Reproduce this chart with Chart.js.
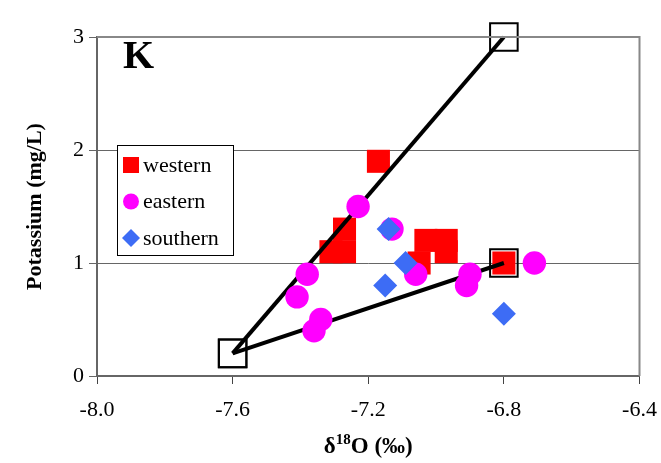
<!DOCTYPE html>
<html>
<head>
<meta charset="utf-8">
<script src="https://cdn.jsdelivr.net/npm/chart.js@4/dist/chart.umd.min.js"></script>
<style>
  html, body { margin: 0; padding: 0; background: #fff; }
</style>
</head>
<body>
<canvas id="kChart" width="661" height="463"></canvas>
<script>
// data (delta 18O vs potassium)
const westernX  = [-7.17, -7.31, -7.27, -7.27, -7.03, -6.97, -6.97, -7.05, -6.80];
const westernY  = [ 1.90,  1.10,  1.10,  1.30,  1.20,  1.20,  1.10,  1.00,  1.00];
const easternX  = [-7.23, -7.13, -7.38, -7.41, -7.34, -7.36, -7.06, -6.90, -6.91, -6.71];
const easternY  = [ 1.50,  1.30,  0.90,  0.70,  0.50,  0.40,  0.90,  0.90,  0.80,  1.00];
const southernX = [-7.14, -7.09, -7.15, -6.80];
const southernY = [ 1.30,  1.00,  0.80,  0.55];
// end members of the two mixing lines
const endX      = [-7.6, -6.8];
const upperY    = [0.2, 3.0];
const lowerY    = [0.2, 1.0];
const xTicks    = [-8.0, -7.6, -7.2, -6.8, -6.4];
const yTicks    = [0, 1, 2, 3];

const serif = '"Liberation Serif", "Times New Roman", serif';

function pts(xs, ys) {
    return xs.map((x, i) => ({ x: x, y: ys[i] }));
}

function mixLine(ys) {
    return {
        label: 'mix',
        data: pts(endX, ys),
        showLine: true,
        borderColor: '#000',
        borderWidth: 4,
        pointStyle: 'rect',
        pointRadius: 19.5,
        pointBorderWidth: 2,
        pointBorderColor: '#000',
        pointBackgroundColor: 'rgba(0,0,0,0)',
        order: 3,
        clip: false
    };
}

const legendItems = [
    { text: 'western',  color: '#ff0000', style: 'square' },
    { text: 'eastern',  color: '#ff00ff', style: 'circle' },
    { text: 'southern', color: '#3d6cf5', style: 'diamond' }
];

const decorations = {
    id: 'decorations',
    afterDraw(chart) {
        const ctx = chart.ctx;
        const a = chart.chartArea;
        ctx.save();

        // top and right frame
        ctx.strokeStyle = '#888';
        ctx.lineWidth = 2;
        ctx.beginPath();
        ctx.moveTo(a.left, a.top);
        ctx.lineTo(a.right, a.top);
        ctx.lineTo(a.right, a.bottom);
        ctx.stroke();

        // panel letter
        ctx.fillStyle = '#000';
        ctx.font = 'bold 40px ' + serif;
        ctx.textAlign = 'left';
        ctx.textBaseline = 'alphabetic';
        ctx.fillText('K', 123, 68);

        // legend box
        ctx.fillStyle = '#fff';
        ctx.fillRect(117, 145, 116, 110);
        ctx.strokeStyle = '#000';
        ctx.lineWidth = 1;
        ctx.strokeRect(117.5, 145.5, 116, 110);
        ctx.font = '22px ' + serif;
        ctx.textBaseline = 'middle';
        legendItems.forEach((it, i) => {
            const cy = 165 + i * 36.5;
            const cx = 131;
            ctx.fillStyle = it.color;
            ctx.beginPath();
            if (it.style === 'square') {
                ctx.rect(cx - 8, cy - 8, 16, 16);
            } else if (it.style === 'circle') {
                ctx.arc(cx, cy, 8, 0, Math.PI * 2);
            } else {
                ctx.moveTo(cx, cy - 9);
                ctx.lineTo(cx + 9, cy);
                ctx.lineTo(cx, cy + 9);
                ctx.lineTo(cx - 9, cy);
                ctx.closePath();
            }
            ctx.fill();
            ctx.fillStyle = '#000';
            ctx.fillText(it.text, 143, cy + 1);
        });

        // y axis title
        ctx.save();
        ctx.translate(35, (a.top + a.bottom) / 2);
        ctx.rotate(-Math.PI / 2);
        ctx.font = 'bold 22px ' + serif;
        ctx.textAlign = 'center';
        ctx.textBaseline = 'middle';
        ctx.fillText('Potassium (mg/L)', 0, 0);
        ctx.restore();

        // x axis title with superscript
        const big = 'bold 23px ' + serif;
        const small = 'bold 15px ' + serif;
        ctx.textAlign = 'left';
        ctx.textBaseline = 'alphabetic';
        ctx.font = big;
        const w1 = ctx.measureText('\u03b4').width;
        const w3 = ctx.measureText('O (\u2030)').width;
        ctx.font = small;
        const w2 = ctx.measureText('18').width;
        let x = (a.left + a.right) / 2 - (w1 + w2 + w3) / 2;
        const base = 453;
        ctx.font = big;
        ctx.fillText('\u03b4', x, base);
        x += w1;
        ctx.font = small;
        ctx.fillText('18', x, base - 9);
        x += w2;
        ctx.font = big;
        ctx.fillText('O (\u2030)', x, base);

        ctx.restore();
    }
};

const ctx = document.getElementById('kChart').getContext('2d');
const chart = new Chart(ctx, {
    type: 'scatter',
    data: {
        datasets: [
            {
                label: 'western',
                data: pts(westernX, westernY),
                pointStyle: 'rect',
                pointRadius: 16.3,
                pointBackgroundColor: '#ff0000',
                pointBorderWidth: 0,
                order: 4,
                clip: false
            },
            mixLine(upperY),
            mixLine(lowerY),
            {
                label: 'eastern',
                data: pts(easternX, easternY),
                pointStyle: 'circle',
                pointRadius: 11.7,
                pointBackgroundColor: '#ff00ff',
                pointBorderWidth: 0,
                order: 2,
                clip: false
            },
            {
                label: 'southern',
                data: pts(southernX, southernY),
                pointStyle: 'rectRot',
                pointRadius: 12,
                pointBackgroundColor: '#3d6cf5',
                pointBorderWidth: 0,
                order: 1,
                clip: false
            }
        ]
    },
    options: {
        responsive: false,
        animation: false,
        layout: { padding: { top: 37, right: 18, left: 0, bottom: 0 } },
        plugins: {
            legend: { display: false },
            tooltip: { enabled: false }
        },
        scales: {
            x: {
                type: 'linear',
                min: -8.0,
                max: -6.4,
                afterBuildTicks: s => { s.ticks = xTicks.map(v => ({ value: v })); },
                afterFit: s => { s.height = 87; s.paddingLeft = 0; s.paddingRight = 0; },
                grid: { drawOnChartArea: false, tickLength: 8, color: '#444', lineWidth: 1 },
                border: { color: '#666', width: 2 },
                ticks: {
                    padding: 13,
                    color: '#000',
                    font: { family: serif, size: 22 },
                    callback: v => v.toFixed(1)
                }
            },
            y: {
                type: 'linear',
                min: 0,
                max: 3,
                afterBuildTicks: s => { s.ticks = yTicks.map(v => ({ value: v })); },
                afterFit: s => { s.width = 97; s.paddingTop = 0; s.paddingBottom = 0; },
                grid: { color: '#666', lineWidth: 1, tickLength: 8 },
                border: { color: '#666', width: 2 },
                ticks: {
                    padding: 5,
                    color: '#000',
                    font: { family: serif, size: 22 }
                }
            }
        }
    },
    plugins: [decorations]
});
</script>
</body>
</html>
